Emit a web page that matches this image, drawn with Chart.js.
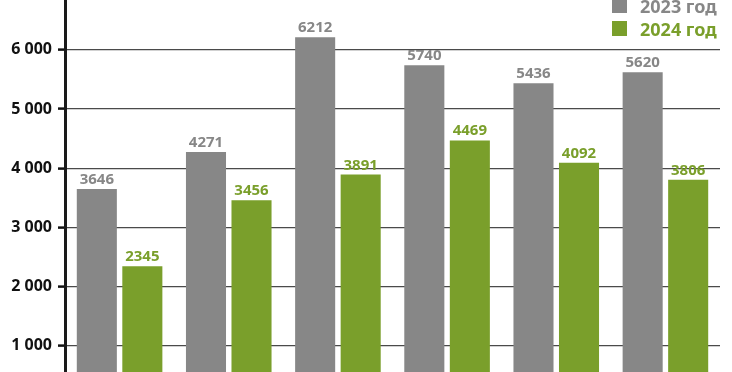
<!DOCTYPE html>
<html>
<head>
<meta charset="utf-8">
<script src="https://cdn.jsdelivr.net/npm/chart.js@4"></script>
<style>
  html, body { margin: 0; padding: 0; background: #fff; overflow: hidden; }
  #wrap { position: relative; width: 732px; height: 405px; }
</style>
</head>
<body>
<div id="wrap"><canvas id="c"></canvas></div>
<script>
const categories = ['1', '2', '3', '4', '5', '6'];
const seriesNames = ['2023 год', '2024 год'];
const values2023 = [3646, 4271, 6212, 5740, 5436, 5620];
const values2024 = [2345, 3456, 3891, 4469, 4092, 3806];
const yTicks = [1000, 2000, 3000, 4000, 5000, 6000];

const GRAY = '#878787';
const GREEN = '#7a9f2b';
const FONT = '"Noto Sans", "Open Sans", sans-serif';

// value labels above each bar, in the bar's colour
const valueLabels = {
  id: 'valueLabels',
  afterDatasetsDraw(chart) {
    const ctx = chart.ctx;
    ctx.save();
    ctx.font = 'bold 15px ' + FONT;
    ctx.textAlign = 'center';
    ctx.textBaseline = 'alphabetic';
    chart.data.datasets.forEach((ds, i) => {
      const meta = chart.getDatasetMeta(i);
      ctx.fillStyle = ds.backgroundColor;
      meta.data.forEach((bar, j) => {
        ctx.fillText(String(ds.data[j]), bar.x, bar.y - 5);
      });
    });
    ctx.restore();
  }
};

// legend in the upper right corner, drawn over the plot
const cornerLegend = {
  id: 'cornerLegend',
  afterDraw(chart) {
    const ctx = chart.ctx;
    ctx.save();
    ctx.font = 'bold 18px ' + FONT;
    ctx.textAlign = 'left';
    ctx.textBaseline = 'alphabetic';
    chart.data.datasets.forEach((ds, i) => {
      const base = 13 + i * 23;
      ctx.fillStyle = ds.backgroundColor;
      ctx.fillRect(612, base - 15, 15, 15);
      ctx.fillText(ds.label, 640, base);
    });
    ctx.restore();
  }
};

new Chart(document.getElementById('c'), {
  type: 'bar',
  data: {
    labels: categories,
    datasets: [
      { label: seriesNames[0], data: values2023, backgroundColor: GRAY },
      { label: seriesNames[1], data: values2024, backgroundColor: GREEN }
    ]
  },
  options: {
    responsive: true,
    maintainAspectRatio: false,
    animation: false,
    layout: { padding: { left: 0, right: 12, top: 0, bottom: 0 } },
    plugins: { legend: { display: false }, tooltip: { enabled: false } },
    datasets: { bar: { categoryPercentage: 0.834, barPercentage: 0.88 } },
    scales: {
      x: { display: false },
      y: {
        min: 0,
        max: 6840,
        afterBuildTicks(scale) {
          scale.ticks = yTicks.map(v => ({ value: v }));
        },
        afterFit(scale) {
          scale.width = 65;
          scale.paddingTop = 0;
          scale.paddingBottom = 0;
        },
        border: { display: true, color: '#1a1a1a', width: 3 },
        grid: {
          color: '#4a4a4a',
          lineWidth: 1.2,
          drawTicks: true,
          tickLength: 7,
          tickColor: '#111',
          tickWidth: 2.5
        },
        ticks: {
          padding: 6,
          color: '#111',
          font: { family: FONT, size: 16, weight: 'bold' },
          callback: v => String(v).replace(/\B(?=(\d{3})+(?!\d))/g, ' ')
        }
      }
    }
  },
  plugins: [valueLabels, cornerLegend]
});
</script>
</body>
</html>
